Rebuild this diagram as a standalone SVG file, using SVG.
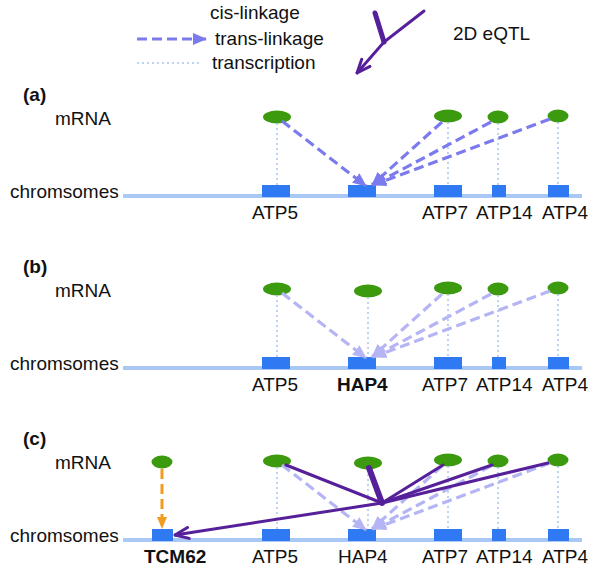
<svg xmlns="http://www.w3.org/2000/svg" width="600" height="572" viewBox="0 0 600 572">
<defs>
<style>
text{font-family:"Liberation Sans",Arial,sans-serif;font-size:19px;fill:#111}
.b{font-weight:bold}
.chr{stroke:#A9C8F4;stroke-width:4}
.box{fill:#2F79F2}
.m{fill:#3C9A0F}
.tx{stroke:#A9C5EE;stroke-width:1.5;stroke-dasharray:2 3;fill:none}
.tr{stroke:#7B7BEE;stroke-width:3.2;stroke-dasharray:10 5;fill:none}
.trl{stroke:#B5B5F5;stroke-width:3.2;stroke-dasharray:10 5;fill:none}
.pu{stroke:#55209A;stroke-width:3;fill:none;stroke-linecap:round}
.or{stroke:#F39B1F;stroke-width:3;stroke-dasharray:10 5;fill:none}
</style>
<marker id="ah" viewBox="0 0 14 12" refX="13" refY="6" markerWidth="14" markerHeight="12" markerUnits="userSpaceOnUse" orient="auto"><path d="M0,0L14,6L0,12z" fill="#7B7BEE"/></marker>
<marker id="ahl" viewBox="0 0 14 12" refX="13" refY="6" markerWidth="14" markerHeight="12" markerUnits="userSpaceOnUse" orient="auto"><path d="M0,0L14,6L0,12z" fill="#B5B5F5"/></marker>
<marker id="aho" viewBox="0 0 12 10" refX="11" refY="5" markerWidth="12" markerHeight="10" markerUnits="userSpaceOnUse" orient="auto"><path d="M0,0L12,5L0,10z" fill="#F39B1F"/></marker>
<marker id="ahp" viewBox="0 0 16 14" refX="15" refY="7" markerWidth="16" markerHeight="14" markerUnits="userSpaceOnUse" orient="auto"><path d="M1.5,1.5L15,7L1.5,12.5" fill="none" stroke="#55209A" stroke-width="3" stroke-linecap="round" stroke-linejoin="round"/></marker>
</defs>

<g id="legend">
<text x="210" y="19">cis-linkage</text>
<line class="tr" x1="137" y1="39" x2="206" y2="39" marker-end="url(#ah)"/>
<text x="215" y="45">trans-linkage</text>
<line class="tx" x1="137" y1="63" x2="202" y2="63"/>
<text x="212" y="69">transcription</text>
<line class="pu" x1="375" y1="13" x2="384" y2="42" style="stroke-width:5"/>
<polyline class="pu" points="424,11 384,42 357,73" marker-end="url(#ahp)"/>
<text x="453" y="40">2D eQTL</text>
</g>

<!-- Panel a -->
<g id="panel-a">
<text class="b" x="23" y="101">(a)</text>
<text x="55" y="125">mRNA</text>
<text x="10" y="198">chromsomes</text>
<line class="chr" x1="123" y1="196" x2="582" y2="196"/>
<g id="a-ATP5"><rect class="box" x="262" y="185" width="28" height="12"/><ellipse class="m" cx="277" cy="117" rx="14" ry="6.5"/><text x="252" y="219">ATP5</text></g>
<g id="a-HAP4"><rect class="box" x="348" y="185" width="28" height="12"/></g>
<g id="a-ATP7"><rect class="box" x="434" y="185" width="28" height="12"/><ellipse class="m" cx="448" cy="116" rx="14" ry="6.5"/><text x="422" y="219">ATP7</text></g>
<g id="a-ATP14"><rect class="box" x="492" y="185" width="14" height="12"/><ellipse class="m" cx="498" cy="117" rx="10.5" ry="6.5"/><text x="476" y="219">ATP14</text></g>
<g id="a-ATP4"><rect class="box" x="548" y="185" width="21" height="12"/><ellipse class="m" cx="558" cy="116" rx="10.5" ry="6.5"/><text x="542" y="219">ATP4</text></g>
<g id="a-connectors">
<line class="tx" x1="277" y1="123" x2="277" y2="185"/>
<line class="tx" x1="448" y1="122" x2="448" y2="185"/>
<line class="tx" x1="498" y1="123" x2="498" y2="185"/>
<line class="tx" x1="558" y1="122" x2="558" y2="185"/>
<line class="tr" x1="282" y1="121" x2="366" y2="186" marker-end="url(#ah)"/>
<line class="tr" x1="442" y1="122" x2="372" y2="185" marker-end="url(#ah)"/>
<line class="tr" x1="491" y1="122" x2="373" y2="185" marker-end="url(#ah)"/>
<line class="tr" x1="550" y1="119" x2="373" y2="185" marker-end="url(#ah)"/>
</g>
</g>

<!-- Panel b -->
<g id="panel-b">
<text class="b" x="23" y="273">(b)</text>
<text x="55" y="297">mRNA</text>
<text x="10" y="370">chromsomes</text>
<line class="chr" x1="123" y1="368" x2="582" y2="368"/>
<g id="b-ATP5"><rect class="box" x="262" y="357" width="28" height="12"/><ellipse class="m" cx="277" cy="289" rx="14" ry="6.5"/><text x="252" y="391">ATP5</text></g>
<g id="b-HAP4"><rect class="box" x="348" y="357" width="28" height="12"/><ellipse class="m" cx="368" cy="291" rx="14" ry="6.5"/><text class="b" x="337" y="391">HAP4</text></g>
<g id="b-ATP7"><rect class="box" x="434" y="357" width="28" height="12"/><ellipse class="m" cx="448" cy="288" rx="14" ry="6.5"/><text x="422" y="391">ATP7</text></g>
<g id="b-ATP14"><rect class="box" x="492" y="357" width="14" height="12"/><ellipse class="m" cx="498" cy="289" rx="10.5" ry="6.5"/><text x="476" y="391">ATP14</text></g>
<g id="b-ATP4"><rect class="box" x="548" y="357" width="21" height="12"/><ellipse class="m" cx="558" cy="288" rx="10.5" ry="6.5"/><text x="542" y="391">ATP4</text></g>
<g id="b-connectors">
<line class="tx" x1="277" y1="295" x2="277" y2="357"/>
<line class="tx" x1="368" y1="297" x2="368" y2="357"/>
<line class="tx" x1="448" y1="294" x2="448" y2="357"/>
<line class="tx" x1="498" y1="295" x2="498" y2="357"/>
<line class="tx" x1="558" y1="294" x2="558" y2="357"/>
<line class="trl" x1="282" y1="293" x2="366" y2="358" marker-end="url(#ahl)"/>
<line class="trl" x1="442" y1="294" x2="372" y2="357" marker-end="url(#ahl)"/>
<line class="trl" x1="491" y1="294" x2="373" y2="357" marker-end="url(#ahl)"/>
<line class="trl" x1="550" y1="291" x2="373" y2="357" marker-end="url(#ahl)"/>
</g>
</g>

<!-- Panel c -->
<g id="panel-c">
<text class="b" x="23" y="445">(c)</text>
<text x="55" y="469">mRNA</text>
<text x="10" y="542">chromsomes</text>
<line class="chr" x1="123" y1="540" x2="582" y2="540"/>
<g id="c-TCM62"><rect class="box" x="152" y="529" width="21" height="12"/><ellipse class="m" cx="162" cy="462" rx="10.5" ry="6.5"/><text class="b" x="144" y="563">TCM62</text></g>
<g id="c-ATP5"><rect class="box" x="262" y="529" width="28" height="12"/><ellipse class="m" cx="277" cy="461" rx="14" ry="6.5"/><text x="252" y="563">ATP5</text></g>
<g id="c-HAP4"><rect class="box" x="348" y="529" width="28" height="12"/><ellipse class="m" cx="368" cy="463" rx="14" ry="6.5"/><text x="338" y="563">HAP4</text></g>
<g id="c-ATP7"><rect class="box" x="434" y="529" width="28" height="12"/><ellipse class="m" cx="448" cy="460" rx="14" ry="6.5"/><text x="422" y="563">ATP7</text></g>
<g id="c-ATP14"><rect class="box" x="492" y="529" width="14" height="12"/><ellipse class="m" cx="498" cy="461" rx="10.5" ry="6.5"/><text x="476" y="563">ATP14</text></g>
<g id="c-ATP4"><rect class="box" x="548" y="529" width="21" height="12"/><ellipse class="m" cx="558" cy="460" rx="10.5" ry="6.5"/><text x="542" y="563">ATP4</text></g>
<g id="c-connectors">
<line class="tx" x1="277" y1="467" x2="277" y2="529"/>
<line class="tx" x1="368" y1="469" x2="368" y2="529"/>
<line class="tx" x1="448" y1="466" x2="448" y2="529"/>
<line class="tx" x1="498" y1="467" x2="498" y2="529"/>
<line class="tx" x1="558" y1="466" x2="558" y2="529"/>
<line class="trl" x1="282" y1="465" x2="366" y2="530" marker-end="url(#ahl)"/>
<line class="trl" x1="442" y1="466" x2="372" y2="529" marker-end="url(#ahl)"/>
<line class="trl" x1="491" y1="466" x2="373" y2="529" marker-end="url(#ahl)"/>
<line class="trl" x1="550" y1="463" x2="373" y2="529" marker-end="url(#ahl)"/>
<line class="or" x1="162" y1="469" x2="162" y2="528" marker-end="url(#aho)"/>
<line class="pu" x1="286" y1="465" x2="382" y2="503"/>
<line class="pu" x1="369" y1="468" x2="382" y2="503" style="stroke-width:6"/>
<line class="pu" x1="443" y1="465" x2="382" y2="503"/>
<line class="pu" x1="492" y1="465" x2="382" y2="503"/>
<line class="pu" x1="548" y1="463" x2="382" y2="503"/>
<line class="pu" x1="382" y1="503" x2="175" y2="535" marker-end="url(#ahp)"/>
</g>
</g>
</svg>
